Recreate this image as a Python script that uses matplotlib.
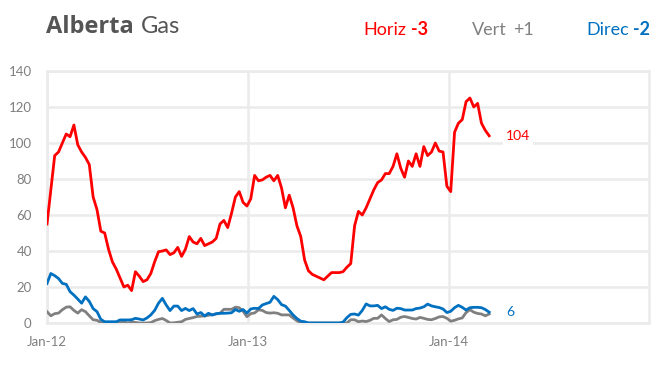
import numpy as np
import pandas as pd
import matplotlib
matplotlib.use("Agg")
import matplotlib.pyplot as plt
import matplotlib.dates as mdates

# weekly well counts, Alberta gas
start_date = "2012-01-01"
horiz = [55, 74, 93, 95, 100, 105, 103.5, 110, 99, 95, 92, 88, 70, 63, 51, 50,
         41, 34, 30, 25, 20, 21, 18, 28.5, 26, 23, 24, 27.5, 34, 39.6, 40, 40.6,
         38, 39, 42, 37, 41, 48, 45, 44, 47, 43, 44, 45, 47, 55, 57, 53,
         61, 70, 73, 67, 65, 69, 82, 79, 79.5, 81, 82, 79, 82, 75, 64, 71,
         64, 54, 48, 35, 29, 27, 26, 25, 24, 26, 28, 28, 28, 28.5, 31, 33,
         54, 62, 60, 64, 69, 74, 78, 79.5, 83, 83, 87, 94, 86, 81, 90, 87,
         94, 87, 98, 93, 95, 100, 95.5, 95, 76, 73, 106, 111, 113, 123, 125, 120,
         122, 111, 107, 104]
direc = [22, 27.5, 26.3, 24.7, 22, 21.5, 17.4, 15.5, 13.3, 11, 14.5, 12, 8, 6.3, 2, 0.7,
         0.7, 0.7, 0.7, 1.7, 1.7, 1.7, 1.8, 2.6, 2.2, 1.7, 2.8, 4.5, 7, 11, 13.7, 10,
         6.9, 9.4, 9.4, 6.9, 8.1, 6.9, 8, 5, 5.8, 3.9, 5.4, 4.4, 5.2, 5.4, 5.4, 5.5,
         5.7, 7.5, 6.5, 7.5, 5.5, 7.8, 8.2, 8, 10, 10.8, 11.5, 14.8, 13, 10.2, 9.4, 7,
         4.5, 2.5, 1, 0.7, 0, 0, 0, 0, 0, 0, 0, 0, 0, 0.5, 3, 4.8,
         5, 4.4, 7, 10.6, 9.5, 9.5, 9.8, 8, 9, 7.6, 7, 8.2, 8, 7.2, 7.2, 7.2,
         8, 8.3, 9, 10.5, 9.5, 9, 8.6, 7.8, 5.8, 6.5, 8.5, 9.8, 8.7, 7.2, 8.5, 8.7,
         8.7, 8.5, 7.5, 6]
vert = [6.3, 4, 5.2, 5.5, 7.4, 8.8, 9, 7, 5.5, 7.4, 6.3, 4, 1.8, 1.5, 0.3, 0,
        0, 0, 0, 0.2, 0.6, 0, 0.5, 0.3, 0, 0, 0, 0.2, 1.3, 2, 2.5, 1.4,
        0, 0.1, 0.4, 0.7, 2, 2.5, 3, 3.6, 3.8, 3.9, 4.3, 4.6, 5, 5.4, 7.6, 7.6,
        7.6, 8.8, 8.5, 6.5, 3.5, 5.2, 5.6, 7.3, 7, 5.8, 5.5, 5.7, 5.4, 4.5, 4.5, 4.5,
        2.8, 1.2, 0.3, 0, 0, 0, 0, 0, 0, 0, 0, 0, 0, 0, 0, 1.8,
        1.8, 0.7, 1.1, 0.8, 1.5, 2.6, 2.6, 4.5, 2.5, 0.8, 1.8, 2, 3.2, 3.6, 3.1, 2.5,
        2.2, 3.1, 2.6, 2, 1.8, 2.5, 3.4, 3.6, 2.6, 1, 1.5, 2.3, 2.8, 5.8, 7.4, 6,
        5.3, 5, 4, 5]
year_ticks = ["2012-01-01", "2013-01-01", "2014-01-01", "2015-01-01"]

RED = "#ff0000"
GRAY = "#808080"
BLUE = "#0070c0"
TXT = "#7f7f7f"

plt.rcParams['font.family'] = ['Lato', 'DejaVu Sans']

dates = pd.date_range(start_date, periods=len(horiz), freq="7D")
ticks = pd.to_datetime(year_ticks)

fig = plt.figure(figsize=(6.7, 3.75), dpi=100)
ax = fig.add_axes([47 / 670, 52 / 375, 602 / 670, 252 / 375])

ax.plot(dates, vert, color=GRAY, lw=2, zorder=3)
ax.plot(dates, direc, color=BLUE, lw=2, zorder=4)
ax.plot(dates, horiz, color=RED, lw=2, zorder=5)

ax.set_xlim(ticks[0], ticks[-1])
ax.set_ylim(0, 140)
ax.set_yticks(np.arange(0, 141, 20))
ax.set_xticks(ticks[:-1])
ax.xaxis.set_major_formatter(mdates.DateFormatter("%b-%y"))
ax.grid(True, color="#ebebeb", lw=1.8, zorder=0)
ax.set_axisbelow(True)
for s in ax.spines.values():
    s.set_color("#ebebeb")
    s.set_linewidth(1.8)
ax.tick_params(length=0, labelsize=9.5, colors=TXT, pad=9)
ax.tick_params(axis="y", pad=11)

# end labels (gray one sits under the blue one in the original)
bb = dict(facecolor="white", edgecolor="none", pad=2)
ax.annotate(f"{horiz[-1]:.0f}", (dates[-1], horiz[-1]), xytext=(12, 0),
            textcoords="offset points", color=RED, fontsize=10, va="center",
            bbox=bb, zorder=6)
ax.annotate(f"{direc[-1]:.0f}", (dates[-1], direc[-1]), xytext=(12, 0),
            textcoords="offset points", color=BLUE, fontsize=10, va="center",
            bbox=bb, zorder=7)

# title and legend header
H = 375
t1 = fig.text(46 / 670, 1 - 33 / H, "Alberta", fontsize=17, fontweight="bold",
              family="Open Sans", color="#555555", va="baseline")
fig.canvas.draw()
r = t1.get_window_extent()
fig.text((r.x1 + 7) / 670, 1 - 33 / H, "Gas", fontsize=17, color="#555555",
         va="baseline")

fig.text(363 / 670, 1 - 35 / H, "Horiz", fontsize=13, color=RED, va="baseline")
fig.text(411 / 670, 1 - 35 / H, "-3", fontsize=13, color=RED,
         fontweight="bold", va="baseline")
fig.text(472 / 670, 1 - 35 / H, "Vert", fontsize=13, color=GRAY, va="baseline")
fig.text(513 / 670, 1 - 35 / H, "+1", fontsize=13, color=GRAY, va="baseline")
fig.text(586 / 670, 1 - 35 / H, "Direc", fontsize=13, color=BLUE, va="baseline")
fig.text(633 / 670, 1 - 35 / H, "-2", fontsize=13, color=BLUE,
         fontweight="bold", va="baseline")

fig.savefig("out.png", dpi=100)
